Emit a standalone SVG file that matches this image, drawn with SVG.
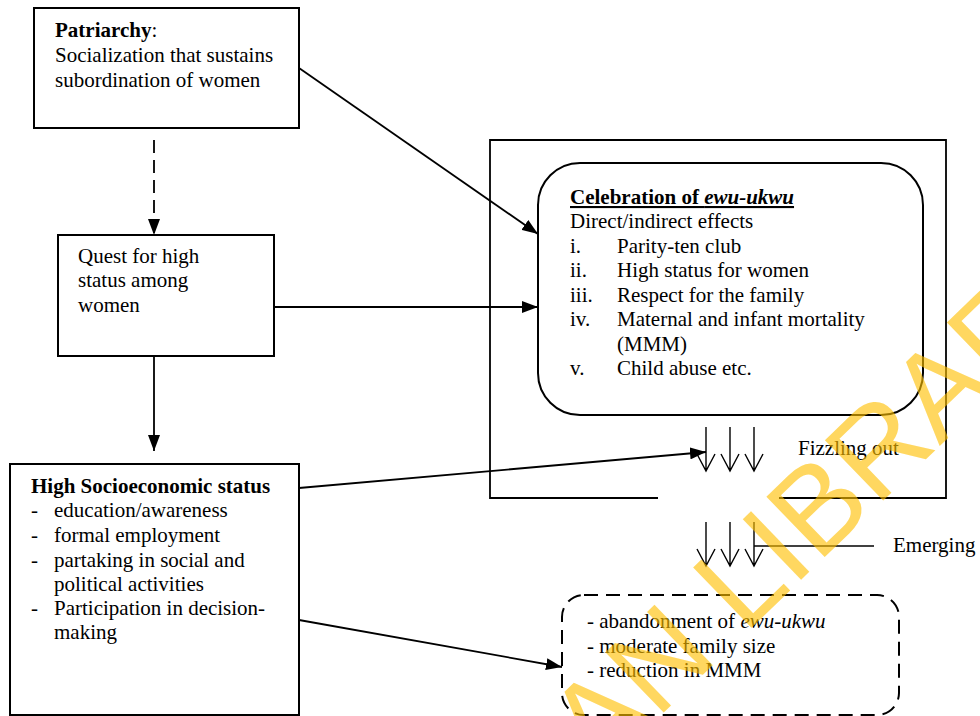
<svg xmlns="http://www.w3.org/2000/svg" width="980" height="716" viewBox="0 0 980 716">
<style>
text{font-family:"Liberation Serif","Times New Roman",serif;font-size:21px;fill:#000}
.b{font-weight:bold}
.i{font-style:italic}
.box{fill:#fff;stroke:#000;stroke-width:2}
.con{fill:none;stroke:#000;stroke-width:1.8}
.thin{fill:none;stroke:#000;stroke-width:1.4}
.wm{font-family:"Liberation Sans",Arial,sans-serif;font-size:122px;fill:#FFC000;opacity:0.62}
</style>
<defs>
<marker id="ah" viewBox="0 0 16 12" markerWidth="16" markerHeight="12" refX="16" refY="6" orient="auto" markerUnits="userSpaceOnUse">
<path d="M0,0 L16,6 L0,12 z" fill="#000"/>
</marker>
</defs>

<g id="outer-frame">
<path class="con" d="M658,498 L490,498 L490,140 L946,140 L946,498 L779,498" stroke-width="2"/>
</g>

<g id="patriarchy">
<rect class="box" x="34" y="8" width="265" height="120"/>
<text x="55" y="37"><tspan class="b">Patriarchy</tspan>:</text>
<text x="55" y="62">Socialization that sustains</text>
<text x="55" y="87">subordination of women</text>
</g>

<g id="quest">
<rect class="box" x="58" y="235" width="216" height="121"/>
<text x="78" y="263">Quest for high</text>
<text x="78" y="287">status among</text>
<text x="78" y="312">women</text>
</g>

<g id="high-ses">
<rect class="box" x="10" y="464" width="289" height="251"/>
<text class="b" x="31" y="493">High Socioeconomic status</text>
<text x="31" y="517">-</text><text x="54" y="517">education/awareness</text>
<text x="31" y="542">-</text><text x="54" y="542">formal employment</text>
<text x="31" y="567">-</text><text x="54" y="567">partaking in social  and</text>
<text x="54" y="591">political activities</text>
<text x="31" y="615">-</text><text x="54" y="615">Participation in decision-</text>
<text x="54" y="639">making</text>
</g>

<g id="celebration">
<rect class="box" x="538" y="163" width="385" height="252" rx="42" ry="42"/>
<text class="b" x="570" y="204" text-decoration="underline">Celebration of <tspan class="i">ewu-ukwu</tspan></text>
<text x="570" y="228">Direct/indirect effects</text>
<text x="570" y="253">i.</text><text x="617" y="253">Parity-ten club</text>
<text x="570" y="277">ii.</text><text x="617" y="277">High status for women</text>
<text x="570" y="302">iii.</text><text x="617" y="302">Respect for the family</text>
<text x="570" y="326">iv.</text><text x="617" y="326">Maternal and infant mortality</text>
<text x="617" y="351">(MMM)</text>
<text x="570" y="375">v.</text><text x="617" y="375">Child abuse etc.</text>
</g>

<g id="outcome">
<rect x="562" y="595" width="337" height="120" rx="22" ry="22" fill="#fff" stroke="#000" stroke-width="2" stroke-dasharray="14,8"/>
<text x="587" y="628">- abandonment of <tspan class="i">ewu-ukwu</tspan></text>
<text x="587" y="653">- moderate family size</text>
<text x="587" y="677">- reduction in MMM</text>
</g>

<g id="fizzling">
<path class="thin" d="M706,427 V471 M697,454 L706,471 L715,454"/>
<path class="thin" d="M730,427 V471 M721,454 L730,471 L739,454"/>
<path class="thin" d="M754,427 V471 M745,454 L754,471 L763,454"/>
<text x="798" y="455">Fizzling out</text>
</g>

<g id="emerging">
<path class="thin" d="M706,522 V566 M697,549 L706,566 L715,549"/>
<path class="thin" d="M730,522 V566 M721,549 L730,566 L739,549"/>
<path class="thin" d="M754,522 V566 M745,549 L754,566 L763,549"/>
<path class="thin" d="M754,546 H874"/>
<text x="893" y="552">Emerging</text>
</g>

<g id="connectors">
<path class="con" d="M154,140 V235" stroke-dasharray="13,7" marker-end="url(#ah)"/>
<path class="con" d="M154,356 V451" marker-end="url(#ah)"/>
<path class="con" d="M299,68 L538,234" marker-end="url(#ah)"/>
<path class="con" d="M274,307 H538" marker-end="url(#ah)"/>
<path class="con" d="M299,488 L706,452" marker-end="url(#ah)"/>
<path class="con" d="M299,620 L562,667" marker-end="url(#ah)"/>
</g>

<g id="watermark">
<text class="wm" transform="translate(598,776) rotate(-44)">AN LIBRARY</text>
</g>
</svg>
